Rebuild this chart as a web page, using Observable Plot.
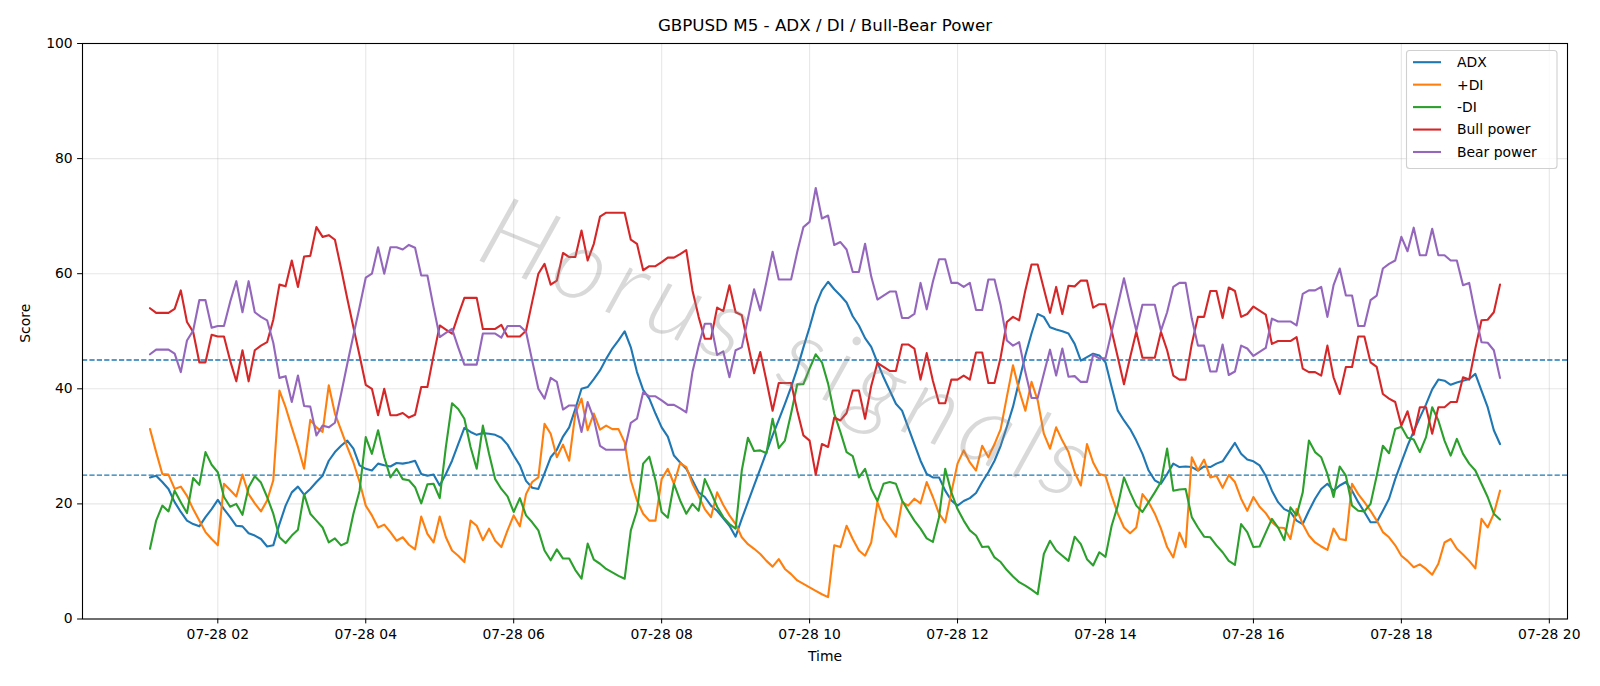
<!DOCTYPE html>
<html>
<head>
<meta charset="utf-8">
<script src="https://cdn.jsdelivr.net/npm/d3@7"></script>
<script src="https://cdn.jsdelivr.net/npm/@observablehq/plot@0.6"></script>
<style>
  html, body { margin: 0; padding: 0; background: #ffffff; }
  #chart { width: 1600px; height: 686px; }
</style>
</head>
<body>
<div id="chart"></div>
<script>
// GBPUSD M5 bars, 07-28 01:05 to 19:20 (UTC), one value per bar.
const firstBar = Date.UTC(2025, 6, 28, 1, 5);
const barMinutes = 5;

const adx = [
  24.6, 24.9, 23.8, 22.6, 20.3, 18.6, 17.1, 16.5, 16.1, 17.7, 19.1, 20.7, 19.1, 17.7, 16.2, 16.1, 14.9, 14.5, 13.9, 12.6,
  12.8, 16.5, 19.7, 22.0, 23.0, 21.6, 22.6, 23.8, 24.9, 27.5, 29.0, 30.1, 31.0, 29.6, 26.7, 26.1, 25.8, 27.0, 26.7, 26.5,
  27.1, 27.0, 27.2, 27.5, 25.2, 24.9, 25.1, 23.2, 25.2, 27.5, 30.4, 33.2, 32.5, 32.0, 32.3, 32.2, 32.0, 31.5, 30.3, 28.4,
  26.7, 24.0, 22.8, 22.6, 25.3, 28.1, 29.4, 31.7, 33.3, 36.5, 40.0, 40.3, 41.7, 43.2, 45.2, 47.0, 48.4, 50.0, 47.2, 42.9,
  39.8, 38.3, 35.7, 33.3, 31.7, 28.4, 27.2, 26.1, 24.1, 22.0, 21.2, 19.7, 18.8, 17.5, 16.2, 14.3, 17.4, 20.3, 23.2, 26.1,
  29.0, 31.9, 34.6, 37.4, 40.3, 43.5, 47.2, 50.7, 54.5, 57.1, 58.6, 57.3, 56.2, 55.0, 52.6, 51.0, 48.8, 47.3, 44.6, 42.0,
  39.7, 37.4, 36.2, 33.3, 30.4, 27.5, 25.2, 24.6, 24.6, 22.3, 20.6, 19.7, 20.5, 21.0, 21.9, 23.8, 25.5, 27.5, 30.1, 33.4,
  36.9, 41.4, 45.8, 49.6, 53.0, 52.5, 50.7, 50.3, 50.0, 49.6, 47.8, 44.9, 45.5, 46.1, 45.8, 44.6, 40.3, 36.2, 34.5, 33.0,
  31.0, 28.7, 25.8, 24.1, 23.5, 25.2, 27.0, 26.4, 26.5, 26.4, 25.8, 26.5, 26.4, 27.0, 27.4, 29.0, 30.6, 28.7, 27.7, 27.4,
  26.7, 24.9, 22.3, 20.3, 19.1, 18.6, 17.1, 16.5, 18.8, 20.9, 22.6, 23.5, 22.3, 23.2, 23.8, 22.3, 20.3, 18.6, 16.8, 16.8,
  18.8, 20.9, 24.3, 27.2, 30.1, 32.6, 35.0, 37.3, 39.9, 41.6, 41.4, 40.7, 41.1, 41.4, 41.7, 42.6, 39.7, 36.8, 32.8, 30.4
];

const plusDI = [
  33.0, 29.0, 25.2, 25.1, 22.6, 23.0, 21.4, 19.1, 17.1, 15.1, 13.9, 12.8, 23.5, 22.4, 21.3, 25.1, 21.7, 20.1, 18.7, 20.6,
  24.1, 39.7, 36.8, 33.3, 29.9, 26.1, 34.6, 33.3, 32.5, 40.6, 35.7, 32.8, 29.9, 27.2, 23.8, 19.7, 18.0, 15.9, 16.4, 15.1,
  13.6, 14.2, 12.9, 12.1, 17.8, 14.8, 13.3, 17.8, 14.2, 11.9, 11.0, 9.9, 17.1, 16.2, 13.7, 15.7, 13.6, 12.5, 15.4, 18.0,
  16.1, 21.7, 23.8, 24.6, 33.9, 32.2, 28.1, 30.3, 27.5, 35.7, 38.3, 32.8, 35.7, 32.9, 33.6, 33.0, 33.0, 30.7, 24.1, 20.6,
  18.3, 17.1, 17.1, 24.3, 26.1, 23.5, 27.1, 26.4, 23.5, 21.4, 19.1, 17.7, 22.0, 19.8, 18.0, 16.5, 14.2, 13.0, 12.2, 11.3,
  10.1, 9.1, 10.4, 8.7, 7.8, 6.7, 6.1, 5.5, 4.9, 4.3, 3.8, 12.8, 12.5, 16.2, 13.9, 11.9, 11.0, 13.3, 20.3, 17.4,
  15.9, 14.3, 20.3, 19.7, 20.9, 20.1, 23.8, 21.2, 18.3, 16.8, 22.0, 27.0, 29.3, 27.2, 25.8, 30.1, 28.1, 30.4, 33.0, 38.6,
  44.1, 39.7, 36.2, 41.2, 38.0, 32.2, 29.6, 33.3, 31.0, 29.0, 25.5, 23.2, 30.4, 27.2, 25.2, 24.9, 21.4, 18.3, 15.9, 14.9,
  15.9, 21.7, 20.3, 18.3, 15.7, 12.5, 10.7, 15.0, 12.5, 28.1, 25.8, 27.7, 24.6, 24.9, 22.8, 25.0, 23.8, 20.9, 18.8, 21.2,
  19.5, 18.4, 16.8, 15.9, 15.8, 13.9, 19.1, 16.5, 14.5, 13.3, 12.6, 12.0, 15.7, 13.9, 13.7, 23.5, 21.7, 20.3, 18.8, 17.1,
  15.1, 14.2, 12.8, 11.0, 10.1, 9.0, 9.5, 8.7, 7.7, 9.6, 13.3, 13.9, 12.2, 11.2, 10.1, 8.8, 17.4, 15.9, 18.3, 22.3
];

const minusDI = [
  12.2, 17.1, 19.7, 18.7, 22.3, 20.3, 18.4, 24.5, 23.3, 29.0, 26.8, 25.5, 21.2, 19.5, 20.0, 18.1, 22.9, 24.8, 23.7, 21.2,
  18.3, 14.2, 13.2, 14.5, 15.5, 21.7, 18.3, 17.1, 15.9, 13.3, 14.0, 12.8, 13.3, 18.3, 22.3, 31.6, 28.7, 32.8, 28.1, 24.6,
  26.1, 24.3, 24.1, 22.9, 20.1, 23.4, 23.5, 21.0, 29.9, 37.5, 36.5, 34.8, 29.9, 26.1, 33.6, 28.7, 24.3, 22.6, 21.3, 18.6,
  21.0, 18.0, 16.8, 15.4, 11.9, 10.2, 12.1, 10.5, 10.5, 8.5, 7.0, 13.1, 10.3, 9.6, 8.7, 8.1, 7.5, 7.0, 15.4, 18.8,
  27.0, 28.2, 24.1, 18.6, 17.6, 23.5, 20.6, 18.3, 20.0, 18.8, 24.3, 22.0, 19.5, 17.7, 16.5, 15.7, 25.8, 31.5, 29.2, 29.3,
  28.8, 34.8, 29.7, 31.0, 35.7, 40.8, 40.8, 43.5, 46.0, 44.6, 40.9, 35.7, 32.5, 29.0, 28.3, 24.6, 26.1, 22.6, 20.5, 23.5,
  23.8, 23.5, 20.6, 18.8, 17.1, 15.7, 14.0, 13.4, 17.7, 26.1, 22.0, 19.1, 17.1, 15.4, 14.5, 12.5, 12.6, 10.7, 9.9, 8.5,
  7.4, 6.4, 5.8, 5.1, 4.3, 11.3, 13.6, 11.9, 11.0, 10.1, 14.3, 13.0, 10.4, 9.3, 11.6, 10.8, 16.2, 19.7, 24.6, 22.0,
  19.7, 18.6, 20.3, 22.0, 23.8, 29.6, 22.3, 22.5, 22.6, 17.7, 15.9, 14.3, 14.2, 12.8, 11.6, 10.1, 9.4, 16.5, 15.1, 12.5,
  12.6, 15.0, 17.4, 15.9, 13.7, 19.4, 18.0, 22.0, 31.0, 29.0, 28.1, 25.2, 21.2, 26.5, 24.9, 19.7, 18.8, 18.7, 20.0, 24.9,
  30.1, 28.8, 33.0, 33.4, 31.5, 31.2, 29.0, 31.6, 36.8, 34.5, 31.0, 28.4, 31.3, 28.7, 27.0, 25.8, 23.5, 21.2, 18.3, 17.3
];

const bullPower = [
  54.0, 53.2, 53.2, 53.2, 53.9, 57.1, 51.6, 49.9, 44.6, 44.6, 49.4, 49.1, 49.1, 44.9, 41.3, 46.7, 41.3, 46.7, 47.5, 48.1,
  52.0, 58.1, 57.8, 62.3, 57.7, 63.0, 63.1, 68.1, 66.4, 66.7, 65.9, 60.9, 55.7, 50.7, 45.8, 40.7, 40.0, 35.4, 40.0, 35.4,
  35.4, 35.8, 35.0, 35.5, 40.3, 40.3, 45.8, 51.0, 50.3, 49.6, 52.8, 55.8, 55.8, 55.8, 50.4, 50.4, 50.4, 51.1, 49.1, 49.1,
  49.1, 50.1, 55.1, 60.0, 61.7, 58.1, 58.8, 63.6, 62.9, 62.9, 67.5, 62.3, 65.2, 69.9, 70.6, 70.6, 70.6, 70.6, 65.9, 65.2,
  60.6, 61.3, 61.3, 62.0, 62.8, 62.8, 63.4, 64.1, 57.1, 52.5, 48.7, 48.7, 54.1, 53.5, 58.0, 53.3, 52.8, 47.8, 42.7, 46.4,
  41.4, 36.2, 41.0, 41.0, 41.0, 36.2, 31.9, 31.0, 25.1, 30.4, 29.9, 35.0, 34.5, 35.8, 39.7, 39.7, 34.8, 40.5, 44.5, 43.8,
  43.1, 43.1, 47.7, 47.7, 47.0, 41.6, 46.2, 41.4, 37.5, 37.5, 41.6, 41.6, 42.3, 41.6, 46.3, 46.3, 41.0, 41.0, 45.5, 51.6,
  52.5, 51.9, 57.1, 61.6, 61.6, 57.4, 53.2, 57.7, 53.0, 57.9, 57.8, 58.8, 58.8, 54.1, 54.7, 54.7, 50.1, 45.5, 40.8, 45.5,
  49.9, 45.4, 45.4, 45.4, 49.9, 46.7, 42.3, 41.6, 41.6, 47.8, 52.5, 52.5, 57.0, 57.0, 52.3, 57.6, 57.0, 52.5, 53.0, 54.3,
  53.6, 52.9, 47.8, 48.3, 48.3, 48.3, 49.0, 43.5, 42.9, 42.9, 42.3, 47.5, 42.0, 39.1, 43.8, 43.8, 49.1, 49.1, 44.6, 43.8,
  39.1, 38.3, 37.7, 33.6, 36.1, 32.0, 36.8, 36.8, 32.2, 36.8, 36.8, 37.7, 37.7, 42.0, 41.6, 47.0, 51.9, 52.0, 53.3, 58.1
];

const bearPower = [
  46.0, 46.8, 46.8, 46.8, 46.1, 42.9, 48.4, 50.1, 55.4, 55.4, 50.6, 50.9, 50.9, 55.1, 58.7, 53.3, 58.7, 53.3, 52.5, 51.9,
  48.0, 41.9, 42.2, 37.7, 42.3, 37.0, 36.9, 31.9, 33.6, 33.3, 34.1, 39.1, 44.3, 49.3, 54.2, 59.3, 60.0, 64.6, 60.0, 64.6,
  64.6, 64.2, 65.0, 64.5, 59.7, 59.7, 54.2, 49.0, 49.7, 50.4, 47.2, 44.2, 44.2, 44.2, 49.6, 49.6, 49.6, 48.9, 50.9, 50.9,
  50.9, 49.9, 44.9, 40.0, 38.3, 41.9, 41.2, 36.4, 37.1, 37.1, 32.5, 37.7, 34.8, 30.1, 29.4, 29.4, 29.4, 29.4, 34.1, 34.8,
  39.4, 38.7, 38.7, 38.0, 37.2, 37.2, 36.6, 35.9, 42.9, 47.5, 51.3, 51.3, 45.9, 46.5, 42.0, 46.7, 47.2, 52.2, 57.3, 53.6,
  58.6, 63.8, 59.0, 59.0, 59.0, 63.8, 68.1, 69.0, 74.9, 69.6, 70.1, 65.0, 65.5, 64.2, 60.3, 60.3, 65.2, 59.5, 55.5, 56.2,
  56.9, 56.9, 52.3, 52.3, 53.0, 58.4, 53.8, 58.6, 62.5, 62.5, 58.4, 58.4, 57.7, 58.4, 53.7, 53.7, 59.0, 59.0, 54.5, 48.4,
  47.5, 48.1, 42.9, 38.4, 38.4, 42.6, 46.8, 42.3, 47.0, 42.1, 42.2, 41.2, 41.2, 45.9, 45.3, 45.3, 49.9, 54.5, 59.2, 54.5,
  50.1, 54.6, 54.6, 54.6, 50.1, 53.3, 57.7, 58.4, 58.4, 52.2, 47.5, 47.5, 43.0, 43.0, 47.7, 42.4, 43.0, 47.5, 47.0, 45.7,
  46.4, 47.1, 52.2, 51.7, 51.7, 51.7, 51.0, 56.5, 57.1, 57.1, 57.7, 52.5, 58.0, 60.9, 56.2, 56.2, 50.9, 50.9, 55.4, 56.2,
  60.9, 61.7, 62.3, 66.4, 63.9, 68.0, 63.2, 63.2, 67.8, 63.2, 63.2, 62.3, 62.3, 58.0, 58.4, 53.0, 48.1, 48.0, 46.7, 41.9
];

const seriesNames = ["ADX", "+DI", "-DI", "Bull power", "Bear power"];
const seriesColors = ["#1f77b4", "#ff7f0e", "#2ca02c", "#d62728", "#9467bd"];
const seriesValues = [adx, plusDI, minusDI, bullPower, bearPower];

const thresholdLevels = [25, 45];
const yTickValues = [0, 20, 40, 60, 80, 100];
const chartTitle = "GBPUSD M5 - ADX / DI / Bull-Bear Power";
const xAxisLabel = "Time";
const yAxisLabel = "Score";
const watermarkText = "Horus signals";

// Bar timestamps
const barTimes = adx.map((_, i) => new Date(firstBar + i * barMinutes * 60000));

// 5% padding on each side of the time range
const span = barTimes[barTimes.length - 1] - barTimes[0];
const xDomain = [new Date(+barTimes[0] - span * 0.05), new Date(+barTimes[barTimes.length - 1] + span * 0.05)];
const xTickValues = d3.utcHour.every(2).range(xDomain[0], xDomain[1]);

const seriesRows = seriesValues.map(vals => barTimes.map((t, i) => ({t, v: vals[i]})));

const gridStyle = {stroke: "#b0b0b0", strokeOpacity: 0.3, strokeWidth: 1.1};

const chart = Plot.plot({
  width: 1600,
  height: 686,
  marginTop: 43,
  marginRight: 33,
  marginBottom: 67.5,
  marginLeft: 82,
  style: {fontFamily: "'DejaVu Sans', sans-serif", fontSize: "13.9px", color: "#000", background: "#fff"},
  x: {type: "utc", domain: xDomain},
  y: {domain: [0, 100]},
  marks: [
    Plot.gridX(xTickValues, gridStyle),
    Plot.gridY(yTickValues, gridStyle),
    Plot.ruleY(thresholdLevels, {stroke: "#1f77b4", strokeWidth: 1.4, strokeDasharray: "5.2 2.2"}),
    ...seriesRows.map((rows, k) => Plot.line(rows, {x: "t", y: "v", stroke: seriesColors[k], strokeWidth: 2.1})),
    Plot.text([watermarkText], {
      text: d => d, frameAnchor: "middle", dx: -36, dy: 20, rotate: 22,
      fontSize: 100, fontStyle: "italic", fontWeight: 300, fontFamily: "Lato, 'Open Sans', sans-serif",
      fill: "#8a8a8a", fillOpacity: 0.32
    }),
    Plot.frame({stroke: "#000", strokeWidth: 1.1}),
    Plot.axisX({ticks: xTickValues, tickFormat: d3.utcFormat("%m-%d %H"), tickSize: 4.9, tickPadding: 4.9, label: null, fontSize: 13.9}),
    Plot.axisY({ticks: yTickValues, tickSize: 4.9, tickPadding: 4.9, label: null, fontSize: 13.9}),
    Plot.text([chartTitle], {text: d => d, frameAnchor: "top", lineAnchor: "middle", dy: -17.5, fontSize: 16.7}),
    Plot.text([xAxisLabel], {text: d => d, frameAnchor: "bottom", lineAnchor: "middle", dy: 37.5, fontSize: 13.9}),
    Plot.text([yAxisLabel], {text: d => d, frameAnchor: "left", textAnchor: "middle", lineAnchor: "middle", dx: -56.5, dy: -8, rotate: -90, fontSize: 13.9})
  ]
});

document.getElementById("chart").appendChild(chart);

// Spread the watermark letters a little
d3.select(chart).selectAll("text").filter(function () { return this.textContent === watermarkText; })
  .attr("letter-spacing", "9px");

// Legend box in the upper-right corner of the axes
const svg = d3.select(chart);
const legend = svg.append("g")
  .attr("font-family", "'DejaVu Sans', sans-serif")
  .attr("font-size", "13.9px")
  .attr("text-anchor", "start");
legend.append("rect")
  .attr("x", 1406.5).attr("y", 50.5).attr("width", 150.5).attr("height", 118)
  .attr("rx", 3).attr("fill", "#fff").attr("fill-opacity", 0.8)
  .attr("stroke", "#d0d0d0").attr("stroke-width", 1.1);
seriesNames.forEach((name, k) => {
  const y = 62.2 + k * 22.45;
  legend.append("line")
    .attr("x1", 1413).attr("x2", 1441).attr("y1", y).attr("y2", y)
    .attr("stroke", seriesColors[k]).attr("stroke-width", 2.1);
  legend.append("text")
    .attr("x", 1457).attr("y", y).attr("dy", "0.35em")
    .attr("text-anchor", "start")
    .attr("fill", "#000").text(name);
});
</script>
</body>
</html>
